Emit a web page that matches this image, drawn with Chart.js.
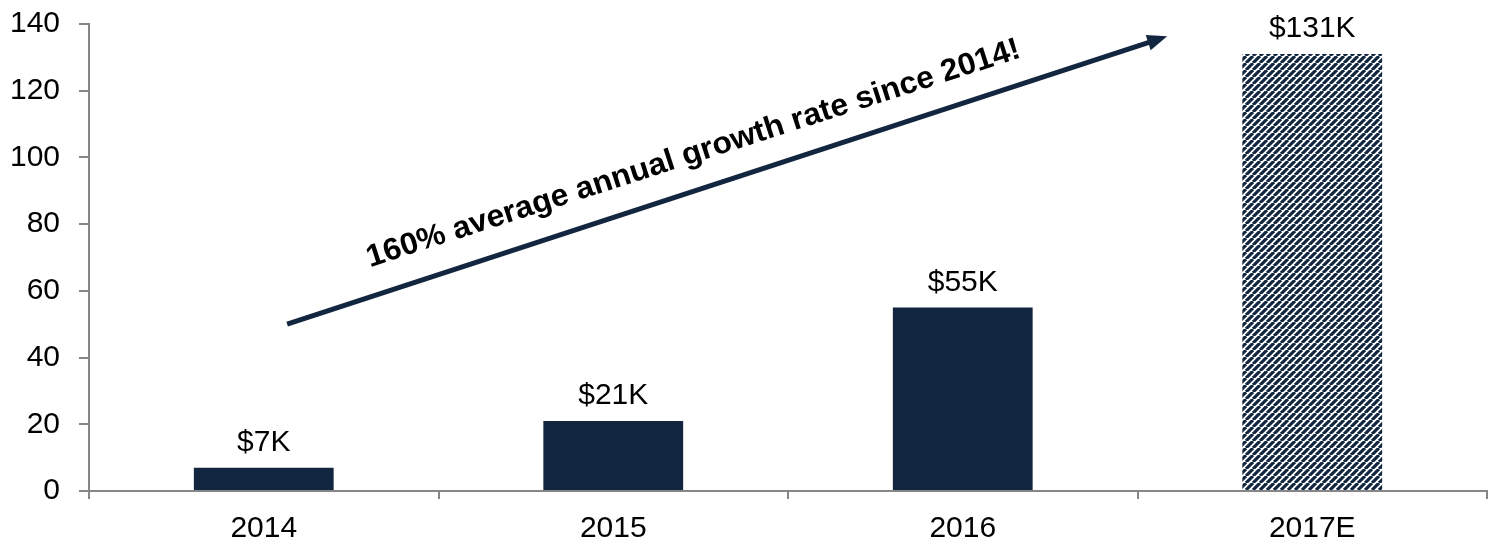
<!DOCTYPE html>
<html>
<head>
<meta charset="utf-8">
<script src="https://cdn.jsdelivr.net/npm/chart.js@4.4.1/dist/chart.umd.min.js"></script>
<style>
  html, body { margin: 0; padding: 0; background: #ffffff; }
  #wrap { width: 1497px; height: 544px; position: relative; }
</style>
</head>
<body>
<div id="wrap"><canvas id="c" width="1497" height="544"></canvas></div>
<script>
// ---- data ----
const categories = ['2014', '2015', '2016', '2017E'];
const values = [7, 21, 55, 131];
const valueLabels = ['$7K', '$21K', '$55K', '$131K'];
const isEstimate = [false, false, false, true];
const yTicks = [0, 20, 40, 60, 80, 100, 120, 140];
const annotationText = '160% average annual growth rate since 2014!';
// annotation anchors in data space: [category index, value]
const arrowStart = [0.067, 50];
const arrowEnd = [2.585, 136.3];
const textBaseStart = [0.304, 67.1];
const textBaseEnd = [2.17, 130.1];

const NAVY = '#13263f';
const AXIS = '#868686';
const FONT = '"Liberation Sans", Arial, sans-serif';

function makeStripePattern() {
  const size = 7;
  const pc = document.createElement('canvas');
  pc.width = size; pc.height = size;
  const g = pc.getContext('2d');
  g.fillStyle = '#ffffff';
  g.fillRect(0, 0, size, size);
  g.strokeStyle = NAVY;
  g.lineWidth = 3.2;
  g.beginPath();
  for (let k = -1; k <= 1; k++) {
    g.moveTo(k * size, size);
    g.lineTo(k * size + size, 0);
  }
  g.stroke();
  return document.getElementById('c').getContext('2d').createPattern(pc, 'repeat');
}
const stripe = makeStripePattern();

const labelPlugin = {
  id: 'valueLabels',
  afterDatasetsDraw(chart) {
    const ctx = chart.ctx;
    const meta = chart.getDatasetMeta(0);
    ctx.save();
    ctx.font = '30px ' + FONT;
    ctx.fillStyle = '#000';
    ctx.textAlign = 'center';
    ctx.textBaseline = 'alphabetic';
    meta.data.forEach((bar, i) => {
      ctx.fillText(valueLabels[i], bar.x, bar.y - 17);
    });
    ctx.restore();
  }
};

const arrowPlugin = {
  id: 'growthArrow',
  afterDraw(chart) {
    const ctx = chart.ctx;
    const xs = chart.scales.x, ys = chart.scales.y;
    const px = p => [xs.getPixelForValue(p[0]), ys.getPixelForValue(p[1])];
    const [x1, y1] = px(arrowStart);
    const [x2, y2] = px(arrowEnd);
    const ang = Math.atan2(y2 - y1, x2 - x1);
    const head = 20, hw = 8;
    ctx.save();
    ctx.strokeStyle = NAVY;
    ctx.fillStyle = NAVY;
    ctx.lineWidth = 5;
    ctx.beginPath();
    ctx.moveTo(x1, y1);
    ctx.lineTo(x2 - Math.cos(ang) * head * 0.8, y2 - Math.sin(ang) * head * 0.8);
    ctx.stroke();
    ctx.translate(x2, y2);
    ctx.rotate(ang);
    ctx.beginPath();
    ctx.moveTo(0, 0);
    ctx.lineTo(-head, -hw);
    ctx.lineTo(-head, hw);
    ctx.closePath();
    ctx.fill();
    ctx.restore();

    // rotated text along its baseline
    const [sx, sy] = px(textBaseStart);
    const [ex, ey] = px(textBaseEnd);
    const tang = Math.atan2(ey - sy, ex - sx);
    const len = Math.hypot(ex - sx, ey - sy);
    ctx.save();
    ctx.translate(sx, sy);
    ctx.rotate(tang);
    ctx.font = 'bold 31px ' + FONT;
    const w = ctx.measureText(annotationText).width;
    ctx.scale(len / w, 1);
    ctx.fillStyle = '#000';
    ctx.textAlign = 'left';
    ctx.textBaseline = 'alphabetic';
    ctx.fillText(annotationText, 0, 0);
    ctx.restore();
  }
};

new Chart(document.getElementById('c'), {
  type: 'bar',
  data: {
    labels: categories,
    datasets: [{
      data: values,
      backgroundColor: values.map((v, i) => isEstimate[i] ? stripe : NAVY),
      borderWidth: 0,
      categoryPercentage: 1.0,
      barPercentage: 0.4
    }]
  },
  options: {
    responsive: false,
    animation: false,
    devicePixelRatio: 1,
    layout: { padding: { top: 24, right: 10, left: 0, bottom: 0 } },
    plugins: { legend: { display: false }, tooltip: { enabled: false } },
    scales: {
      x: {
        offset: true,
        grid: { display: true, drawOnChartArea: false, drawTicks: true, tickLength: 8, color: AXIS, lineWidth: 2, offset: true },
        border: { display: true, color: AXIS, width: 2 },
        ticks: { color: '#000', font: { family: FONT, size: 30 }, padding: 12 },
        afterFit(scale) { scale.height = 53; scale.paddingLeft = 0; scale.paddingRight = 0; }
      },
      y: {
        min: 0, max: 140,
        afterBuildTicks(scale) { scale.ticks = yTicks.map(v => ({ value: v })); },
        grid: { display: true, drawOnChartArea: false, drawTicks: true, tickLength: 10, color: AXIS, lineWidth: 2 },
        border: { display: true, color: AXIS, width: 2 },
        ticks: { color: '#000', font: { family: FONT, size: 30 }, padding: 19 },
        afterFit(scale) { scale.width = 89; scale.paddingTop = 0; scale.paddingBottom = 0; }
      }
    }
  },
  plugins: [labelPlugin, arrowPlugin]
});
</script>
</body>
</html>
